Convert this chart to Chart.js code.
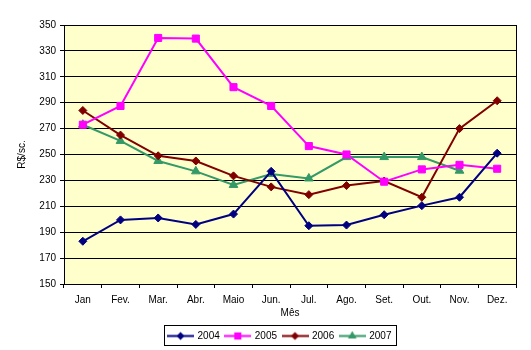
<!DOCTYPE html>
<html><head><meta charset="utf-8">
<script src="https://cdn.jsdelivr.net/npm/chart.js@4/dist/chart.umd.min.js"></script>
<style>html,body{margin:0;padding:0;background:#fff}#wrap{width:531px;height:350px}</style>
</head><body><div id="wrap"><canvas id="c" width="531" height="350"></canvas></div>
<script>
const months = ["Jan","Fev.","Mar.","Abr.","Maio","Jun.","Jul.","Ago.","Set.","Out.","Nov.","Dez."];
const s2004 = [183, 199.5, 201, 196, 204, 237, 195, 195.5, 203.5, 210.5, 217, 251];
const s2005 = [273, 287.5, 340, 339.5, 302, 287.5, 256.5, 250, 229, 238.5, 242, 239];
const s2006 = [284, 265, 249, 245, 233.5, 225, 219, 226, 229.5, 217, 270, 291.5];
const s2007 = [273, 260.5, 245, 237, 226.5, 235, 231.5, 248, 248, 248, 237.5, null];
const seriesNames = ["2004","2005","2006","2007"];
const yTicks = [150,170,190,210,230,250,270,290,310,330,350];

const colors = ["#000080","#FF00FF","#800000","#339966"];
const styles = ["rectRot","rect","rectRot","triangle"];
const radii = [4,5,4,5];
const FONT = "'Liberation Sans', Arial, sans-serif";

function legendIcon(color, style, r){
  const cv = document.createElement('canvas');
  cv.width = 27; cv.height = 11;
  const g = cv.getContext('2d');
  g.strokeStyle = color; g.lineWidth = 2;
  g.beginPath(); g.moveTo(0,5.5); g.lineTo(27,5.5); g.stroke();
  g.fillStyle = color;
  const x=13.5,y=5.5;
  g.beginPath();
  if(style==='rect'){ const s=r*Math.SQRT1_2; g.rect(x-s,y-s,2*s,2*s);}
  else if(style==='rectRot'){ g.moveTo(x,y-r); g.lineTo(x+r,y); g.lineTo(x,y+r); g.lineTo(x-r,y); g.closePath();}
  else { g.moveTo(x,y-r); g.lineTo(x+r*0.866,y+r*0.5); g.lineTo(x-r*0.866,y+r*0.5); g.closePath();}
  g.fill();
  return cv;
}
const icons = colors.map((c,i)=>legendIcon(c,styles[i],radii[i]));

const dataArr = [s2004,s2005,s2006,s2007];
const datasets = seriesNames.map((n,i)=>({
  label:n, data:dataArr[i], borderColor:colors[i], backgroundColor:colors[i],
  borderWidth:2, pointStyle:styles[i], pointRadius:radii[i], pointHoverRadius:radii[i],
  pointBorderWidth:1, pointBackgroundColor:colors[i], pointBorderColor:colors[i],
  tension:0, spanGaps:false
}));

const plotBg = {
  id:'plotBg',
  afterLayout(chart){
    const lg = chart.legend;
    if(lg){ lg.left += 22; lg.right += 22; lg.top += 3; lg.bottom += 3; }
  },
  beforeDraw(chart){
    const {ctx, chartArea:a} = chart;
    ctx.save(); ctx.fillStyle = '#FFFFCC';
    ctx.fillRect(a.left,a.top,a.right-a.left,a.bottom-a.top); ctx.restore();
  },
  afterDraw(chart){
    const {ctx, chartArea:a} = chart;
    ctx.save(); ctx.strokeStyle='#000'; ctx.lineWidth=1;
    ctx.strokeRect(Math.round(a.left)+0.5, Math.round(a.top)+0.5, Math.round(a.right-a.left), Math.round(a.bottom-a.top));
    const lg = chart.legend;
    if(lg && lg.legendHitBoxes && lg.legendHitBoxes.length){
      const hb = lg.legendHitBoxes;
      let l=Infinity,r=-Infinity,t=Infinity,b=-Infinity;
      hb.forEach(h=>{l=Math.min(l,h.left);r=Math.max(r,h.left+h.width);t=Math.min(t,h.top);b=Math.max(b,h.top+h.height);});
      ctx.strokeRect(Math.round(l)-4.5, Math.round(t)-5.5, Math.round(r-l)+9, Math.round(b-t)+10);
    }
    ctx.restore();
  }
};

new Chart(document.getElementById('c'), {
  type:'line',
  data:{labels:months, datasets},
  plugins:[plotBg],
  options:{
    responsive:false, animation:false, devicePixelRatio:1,
    layout:{padding:{left:0,right:15,top:25,bottom:2}},
    plugins:{
      tooltip:{enabled:false},
      legend:{
        position:'bottom',
        labels:{
          usePointStyle:true, pointStyleWidth:24, padding:6,
          font:{family:FONT,size:10}, color:'#000',
          generateLabels(chart){
            return chart.data.datasets.map((d,i)=>({
              text:d.label, pointStyle:icons[i], fillStyle:d.borderColor, strokeStyle:d.borderColor,
              lineWidth:0, hidden:false, datasetIndex:i, fontColor:'#000'
            }));
          }
        }
      }
    },
    scales:{
      x:{
        offset:true,
        grid:{display:true, drawOnChartArea:false, drawTicks:true, tickLength:4, color:'#000', offset:true},
        border:{display:true,color:'#000'},
        ticks:{font:{family:FONT,size:10}, color:'#000', padding:6, maxRotation:0, autoSkip:false},
        title:{display:true, text:'Mês', font:{family:FONT,size:10}, color:'#000', padding:{top:0,bottom:3}},
        afterFit(s){ s.height = 38; }
      },
      y:{
        min:150, max:350,
        afterBuildTicks(s){ s.ticks = yTicks.map(v=>({value:v})); },
        grid:{color:'#000', lineWidth:1, tickLength:4, drawTicks:true},
        border:{display:true,color:'#000'},
        ticks:{font:{family:FONT,size:10}, color:'#000', padding:4},
        title:{display:true, text:'R$/sc.', font:{family:FONT,size:10}, color:'#000', padding:{top:16,bottom:0}},
        afterFit(s){ s.width = 64; }
      }
    }
  }
});
</script></body></html>
